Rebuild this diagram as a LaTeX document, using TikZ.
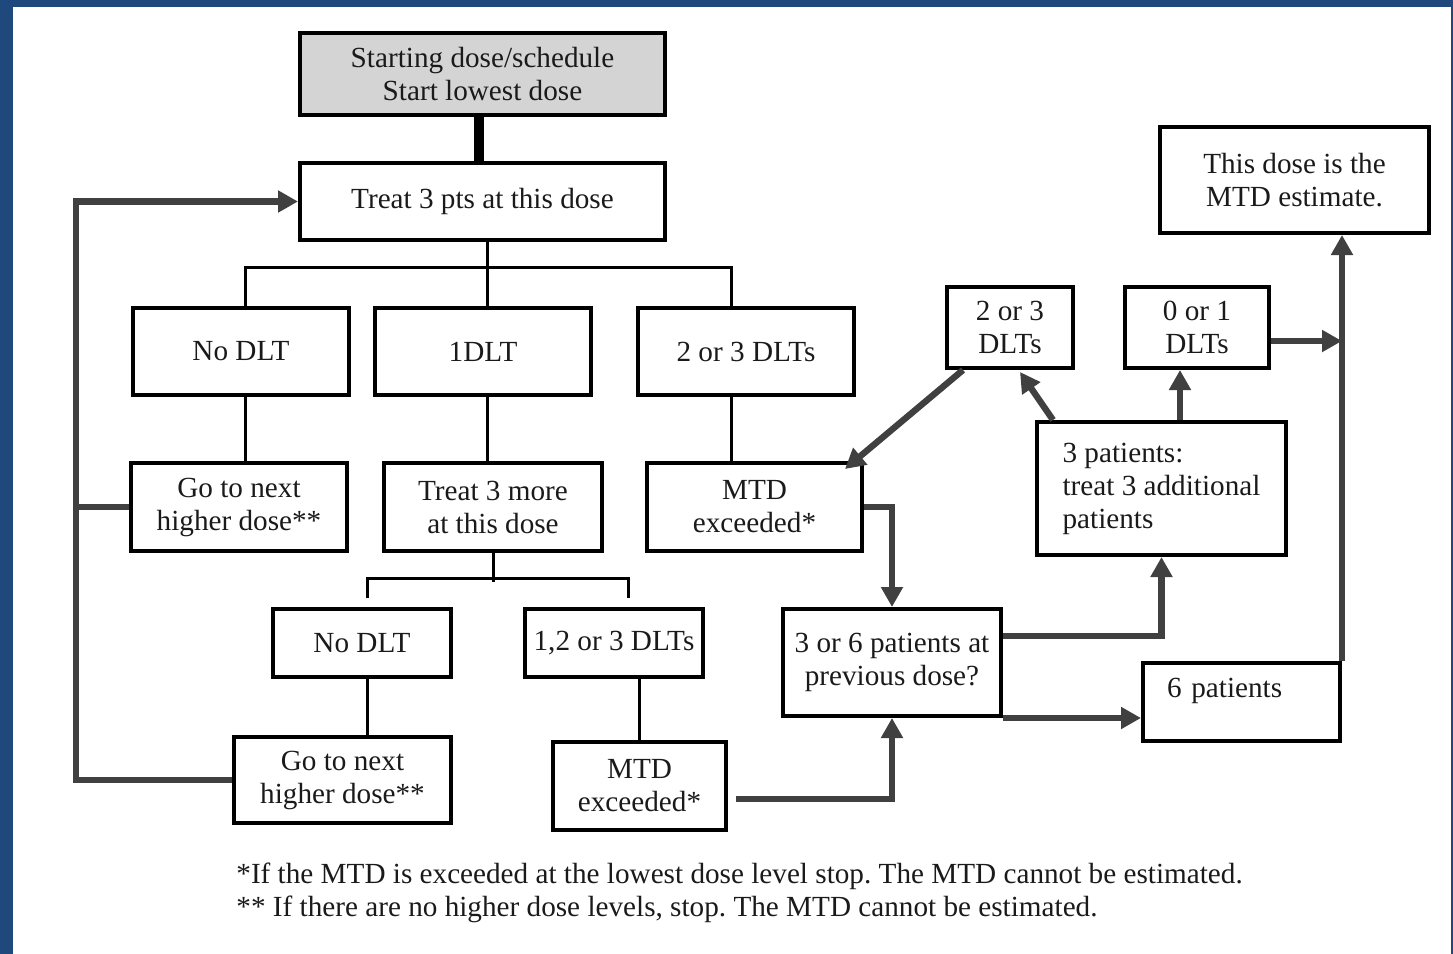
\documentclass[tikz,border=0pt]{standalone}
\usepackage{fontspec}
\setmainfont{Liberation Serif}
\usetikzlibrary{arrows.meta}
\definecolor{frameblue}{HTML}{1F497D}
\definecolor{boxgray}{HTML}{D4D4D4}
\definecolor{flowgray}{HTML}{404040}
\definecolor{ink}{HTML}{1A1A1A}
\newcommand{\boxfont}{\fontsize{14.6pt}{16.5pt}\selectfont\frenchspacing}
\begin{document}
\begin{tikzpicture}[x=0.5pt,y=-0.5pt,
  box/.style={draw=black, line width=2pt, align=center, inner sep=0pt, font=\boxfont, text=ink},
  tree/.style={draw=black, line width=1.5pt},
  flow/.style={draw=flowgray, line width=3.2pt},
  flowarrow/.style={flow, -{Triangle[length=10pt,width=10.5pt]}},
]
\useasboundingbox (0,0) rectangle (1453,954);
% page frame
\fill[frameblue] (0,0) rectangle (13,954);
\fill[frameblue] (0,0) rectangle (1453,7);
\fill[frameblue] (1451,0) rectangle (1453,954);

% boxes
\node[box, fill=boxgray, line width=2.3pt, minimum width=182.5pt, minimum height=41pt] (start) at (482.5,74) {Starting dose/schedule\\Start lowest dose};
\node[box, minimum width=182.5pt, minimum height=38.5pt] (treat) at (482.5,201.5) {Treat 3 pts at this dose};
\node[box, minimum width=108pt, minimum height=43.5pt] (nodlt) at (241,351.5) {No DLT};
\node[box, minimum width=108pt, minimum height=43.5pt] (onedlt) at (483,351.5) {1DLT};
\node[box, minimum width=108pt, minimum height=43.5pt] (twothree) at (746,351.5) {2 or 3 DLTs};
\node[box, minimum width=108pt, minimum height=44pt] (go1) at (239,507) {Go to next\\higher dose**};
\node[box, minimum width=109pt, minimum height=44pt] (more) at (493,507) {Treat 3 more\\at this dose};
\node[box, minimum width=107.5pt, minimum height=44pt] (mtd1) at (754.5,507) {MTD\\exceeded*};
\node[box, minimum width=89pt, minimum height=34pt] (nodlt2) at (362,643) {No DLT};
\node[box, minimum width=89pt, minimum height=34pt] (dlts123) at (614,643) {1,2 or 3 DLTs};
\node[box, minimum width=108.5pt, minimum height=43pt] (go2) at (342.5,780) {Go to next\\higher dose**};
\node[box, minimum width=86.5pt, minimum height=44pt] (mtd2) at (639.5,786) {MTD\\exceeded*};
\node[box, minimum width=63pt, minimum height=40.5pt] (small23) at (1010,327.5) {2 or 3\\DLTs};
\node[box, minimum width=72pt, minimum height=40.5pt] (zero1) at (1197,327.5) {0 or 1\\DLTs};
\node[box, minimum width=134.5pt, minimum height=53pt] (est) at (1294.5,180) {This dose is the\\MTD estimate.};
\node[box, align=left, minimum width=124.5pt, minimum height=66.5pt] (three) at (1161.5,488.5) {3 patients:\\treat 3 additional\\patients};
\node[box, minimum width=109pt, minimum height=53.5pt] (prev) at (892,662.5) {3 or 6 patients at\\previous dose?};
\node[box, align=left, inner xsep=12pt, text width=74.5pt, minimum height=39pt] (six) at (1241.5,702) {6 patients\\[-7pt]\strut};

% footnotes
\node[anchor=west, align=left, inner sep=0pt, font=\boxfont, text=ink] (notes) at (236,893)
  {*If the MTD is exceeded at the lowest dose level stop. The MTD cannot be estimated.\\
   ** If there are no higher dose levels, stop. The MTD cannot be estimated.};

% decision tree, first level
\draw[draw=black, line width=5pt] ([xshift=-2pt]start.south) -- ([xshift=-2pt]treat.north);
\coordinate (ta) at ([xshift=2pt]nodlt.north);
\coordinate (tb) at ([xshift=2pt]onedlt.north);
\coordinate (tc) at ([xshift=-7.5pt]twothree.north);
\draw[tree] (ta) -- ++(0,-39) -| (tc);
\draw[tree] (tb |- treat.south) -- (tb);
\draw[tree] (ta |- nodlt.south) -- (ta |- go1.north);
\draw[tree] (tb |- onedlt.south) -- (tb |- more.north);
\draw[tree] (tc |- twothree.south) -- (tc |- mtd1.north);

% decision tree, second level
\coordinate (tm) at (more.south);
\coordinate (td) at ([xshift=2.5pt,yshift=4.5pt]nodlt2.north);
\coordinate (te) at ([xshift=7pt,yshift=4.5pt]dlts123.north);
\draw[tree] (tm) -- ++(0,29);
\draw[tree] (td) -- ++(0,-20) -| (te);
\draw[tree] (td |- nodlt2.south) -- (td |- go2.north);
\draw[tree] (mtd2.north |- dlts123.south) -- (mtd2.north);

% escalation loop
\draw[flowarrow] (go2.west) -- ++(-156,0) |- (treat.west);
\draw[flow] (go1.west) -- ++(-53,0);

% de-escalation flow
\draw[flowarrow] (mtd1.east) -| (prev.north);
\draw[flowarrow] ([xshift=4pt,yshift=-6.5pt]mtd2.east) -| (prev.south);
\draw[flowarrow] ([yshift=13.25pt]prev.east) -| (three.south);
\draw[flowarrow] (prev.south east) -- (prev.south east -| six.west);
\draw[flowarrow] (six.north east) -- (six.north east |- est.south);
\coordinate (z1) at ([yshift=-6.75pt]zero1.east);
\draw[flowarrow] (z1) -- (z1 -| six.north east);
\coordinate (t1) at ([xshift=9.25pt]three.north);
\draw[flowarrow] (t1) -- (t1 |- zero1.south);
\draw[flowarrow] ([xshift=9pt]three.north west) -- ([xshift=5pt,yshift=-1pt]small23.south);
\draw[flowarrow] ([xshift=9pt]small23.south west) -- ([xshift=-9.5pt,yshift=-4pt]mtd1.north east);
\end{tikzpicture}
\end{document}
